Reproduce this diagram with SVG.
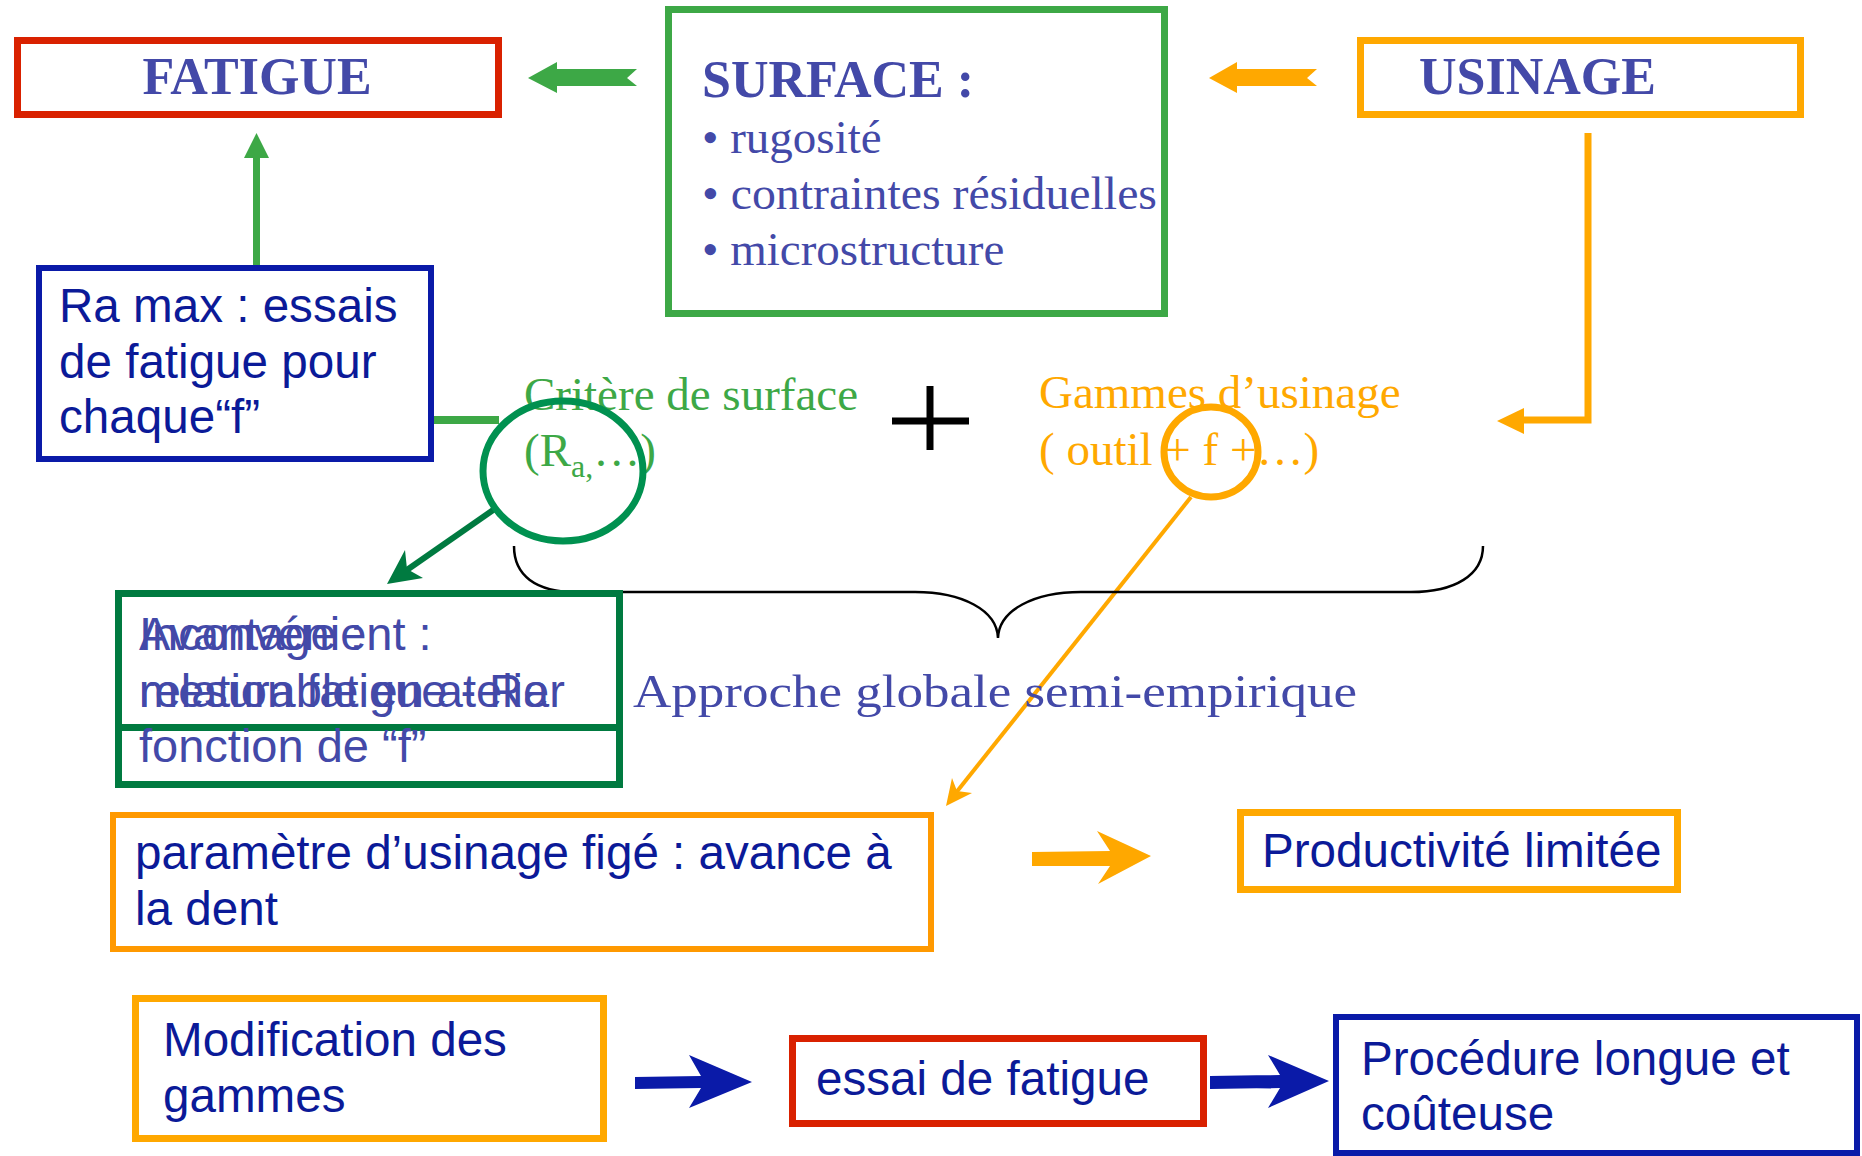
<svg xmlns="http://www.w3.org/2000/svg" width="1862" height="1156" viewBox="0 0 1862 1156">
<style>
.box{fill:none}
.red{stroke:#D92100;stroke-width:7}
.grn{stroke:#3DA846;stroke-width:7}
.dgrn{stroke:#007A40;stroke-width:7}
.org{stroke:#FFA800;stroke-width:7}
.org2{stroke:#FF9900;stroke-width:6}
.blu{stroke:#0A1AA8;stroke-width:6}
.tb{font-family:"Liberation Serif","Times New Roman",serif;font-weight:bold;font-size:52px;fill:#4349A8}
.ts{font-family:"Liberation Serif","Times New Roman",serif;font-size:47px}
.ta{font-family:"Liberation Sans",Arial,sans-serif;font-size:47.6px;fill:#0B1A98}
.tl{font-family:"Liberation Sans",Arial,sans-serif;font-size:47px;fill:#4349A8}
</style>
<rect width="1862" height="1156" fill="#fff"/>
<g id="connectors">
  <polygon points="528,78 557,62 557,69 637,69 627,78 637,86 557,86 557,93" fill="#3DA846"/>
  <polygon points="1209,78 1237,62 1237,69 1317,69 1307,78 1317,86 1237,86 1237,93" fill="#FFA800"/>
  <polyline points="1588,133 1588,420 1522,420" fill="none" stroke="#FFA800" stroke-width="7"/>
  <polygon points="1497,421 1524,408 1524,434" fill="#FFA800"/>
  <line x1="256.5" y1="265" x2="256.5" y2="155" stroke="#3DA846" stroke-width="7"/>
  <polygon points="256.5,133 244,158 269,158" fill="#3DA846"/>
  <line x1="431" y1="420" x2="499" y2="420" stroke="#3DA846" stroke-width="8"/>
  <line x1="496" y1="508" x2="404" y2="572" stroke="#007A40" stroke-width="6"/>
  <polygon points="387,584 405,550 407,569 423,578" fill="#007A40"/>
  <line x1="1191" y1="497" x2="951" y2="799" stroke="#FFA800" stroke-width="4"/>
  <polygon points="946,806 952,778 957,791 972,793" fill="#FFA800"/>
  <polygon points="1032,852 1110,851 1097,831 1151,856 1098,884 1110,866 1032,866" fill="#FFA800"/>
  <polygon points="635,1077 701,1076 689,1055 752,1082 689,1108 701,1088 635,1089" fill="#0A1AA8"/>
  <polygon points="1210,1076 1280,1075 1268,1055 1329,1081 1268,1108 1280,1088 1210,1089" fill="#0A1AA8"/>
  <path d="M514,546 C514,575 535,592 577,592 L915,592 C962,592 997,610 998,638 C999,610 1034,592 1081,592 L1411,592 C1455,592 1483,575 1483,546" fill="none" stroke="#000" stroke-width="2.5"/>
</g>
<g id="fatigue">
  <rect class="box red" x="17.5" y="40.5" width="481" height="74"/>
  <text class="tb" x="257" y="94" text-anchor="middle">FATIGUE</text>
</g>
<g id="surface">
  <rect class="box grn" x="668.5" y="9.5" width="496" height="304"/>
  <text class="tb" x="702" y="97">SURFACE :</text>
  <text class="ts" fill="#4349A8" x="702" y="153">• rugosité</text>
  <text class="ts" fill="#4349A8" x="702" y="209" textLength="455" lengthAdjust="spacingAndGlyphs">• contraintes résiduelles</text>
  <text class="ts" fill="#4349A8" x="702" y="265">• microstructure</text>
</g>
<g id="usinage">
  <rect class="box org" x="1360.5" y="40.5" width="440" height="74"/>
  <text class="tb" x="1419" y="94">USINAGE</text>
</g>
<g id="ramax">
  <rect class="box blu" x="39" y="268" width="392" height="191"/>
  <text class="ta" x="59" y="322" font-size="46.8">Ra max : essais</text>
  <text class="ta" x="59" y="378" font-size="46.8">de fatigue pour</text>
  <text class="ta" x="59" y="433" font-size="46.8">chaque“f”</text>
</g>
<g id="critere">
  <text class="ts" fill="#3DA846" x="524" y="410">Critère de surface</text>
  <text class="ts" fill="#3DA846" x="524" y="466">(R<tspan font-size="32" dy="11">a,</tspan><tspan dy="-11">…)</tspan></text>
  <ellipse cx="563" cy="471" rx="80" ry="70" fill="none" stroke="#009150" stroke-width="7"/>
</g>
<g id="plus">
  <line x1="892" y1="421" x2="969" y2="421" stroke="#000" stroke-width="7"/>
  <line x1="930" y1="386" x2="930" y2="450" stroke="#000" stroke-width="7"/>
</g>
<g id="gammes">
  <text class="ts" fill="#FFA800" x="1039" y="408">Gammes d’usinage</text>
  <text class="ts" fill="#FFA800" x="1039" y="465">( outil + f +…)</text>
  <ellipse cx="1211" cy="452" rx="47" ry="45" fill="none" stroke="#FFA800" stroke-width="7"/>
</g>
<g id="approche">
  <text class="ts" fill="#4349A8" x="633" y="707" font-size="52" textLength="724" lengthAdjust="spacingAndGlyphs">Approche globale semi-empirique</text>
</g>
<g id="avantage">
  <rect class="box dgrn" x="118.5" y="593.5" width="501" height="134"/>
  <text class="tl" x="139" y="650">Avantage :</text>
  <text class="tl" x="139" y="707">mesurable en atelier</text>
</g>
<g id="inconvenient">
  <rect class="box dgrn" x="118.5" y="593.5" width="501" height="191"/>
  <text class="tl" x="139" y="650">Inconvénient :</text>
  <text class="tl" x="139" y="707">relation fatigue - Ra</text>
  <text class="tl" x="139" y="762">fonction de “f”</text>
</g>
<g id="parametre">
  <rect class="box org2" x="113" y="815" width="818" height="134"/>
  <text class="ta" x="135" y="869">paramètre d’usinage figé : avance à</text>
  <text class="ta" x="135" y="925">la dent</text>
</g>
<g id="productivite">
  <rect class="box org" x="1240.5" y="812.5" width="437" height="77"/>
  <text class="ta" x="1262" y="867">Productivité limitée</text>
</g>
<g id="modification">
  <rect class="box org" x="135.5" y="998.5" width="468" height="140"/>
  <text class="ta" x="163" y="1056">Modification des</text>
  <text class="ta" x="163" y="1112">gammes</text>
</g>
<g id="essai">
  <rect class="box red" x="792.5" y="1038.5" width="411" height="85"/>
  <text class="ta" x="816" y="1095">essai de fatigue</text>
</g>
<g id="procedure">
  <rect class="box blu" x="1336" y="1017" width="521" height="136" stroke-width="7"/>
  <text class="ta" x="1361" y="1075">Procédure longue et</text>
  <text class="ta" x="1361" y="1130">coûteuse</text>
</g>
</svg>
